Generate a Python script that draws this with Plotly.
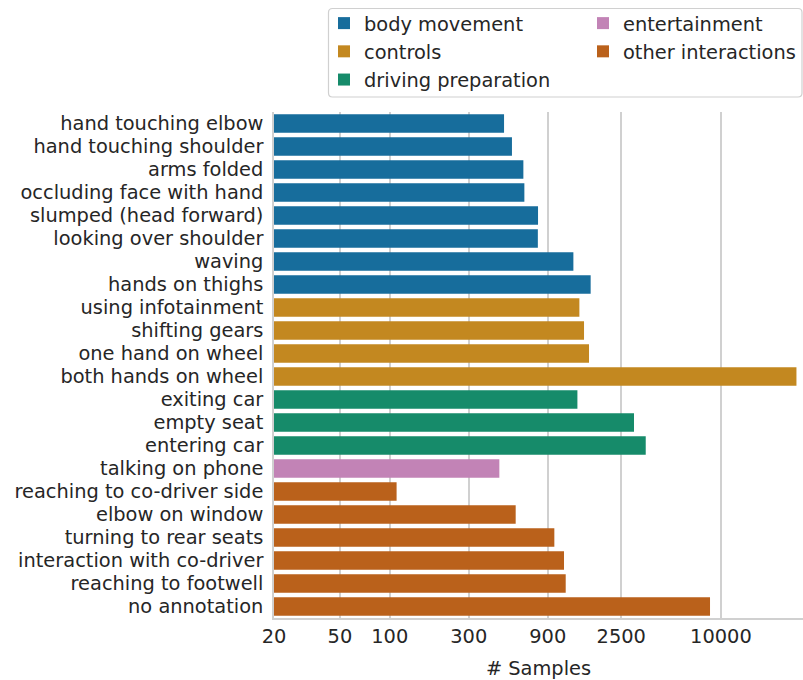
import plotly.graph_objects as go

# Sample counts per activity, grouped by category (top to bottom)
body_movement_labels = ["hand touching elbow", "hand touching shoulder", "arms folded",
                        "occluding face with hand", "slumped (head forward)",
                        "looking over shoulder", "waving", "hands on thighs"]
body_movement_values = [490, 547, 641, 650, 786, 784, 1285, 1634]

controls_labels = ["using infotainment", "shifting gears", "one hand on wheel",
                   "both hands on wheel"]
controls_values = [1397, 1490, 1597, 28570]

driving_prep_labels = ["exiting car", "empty seat", "entering car"]
driving_prep_values = [1359, 2985, 3514]

entertainment_labels = ["talking on phone"]
entertainment_values = [459]

other_labels = ["reaching to co-driver side", "elbow on window", "turning to rear seats",
                "interaction with co-driver", "reaching to footwell", "no annotation"]
other_values = [110, 576, 986, 1128, 1155, 8590]

x_tick_values = [20, 50, 100, 300, 900, 2500, 10000]
x_tick_labels = ["20", "50", "100", "300", "900", "2500", "10000"]

groups = [
    ("body movement", body_movement_labels, body_movement_values, "#176d9c", "legend"),
    ("controls", controls_labels, controls_values, "#c38820", "legend"),
    ("driving preparation", driving_prep_labels, driving_prep_values, "#168b6a", "legend"),
    ("entertainment", entertainment_labels, entertainment_values, "#c283b6", "legend2"),
    ("other interactions", other_labels, other_values, "#ba611b", "legend2"),
]

all_labels = []
for _, labels, _, _, _ in groups:
    all_labels += labels

FONT = "DejaVu Sans"
TEXT = "#262626"
FS = 19.4

W, H = 803, 680
L, R, T, B = 274, 0, 112, 62

fig = go.Figure()
for name, labels, values, color, leg in groups:
    fig.add_trace(go.Bar(
        y=labels, x=values, orientation="h", name=name,
        marker=dict(color=color, line=dict(width=0)),
        width=0.8, legend=leg, legendgroup=name,
    ))

pw = W - L - R
ph = H - T - B


def px_x(p):
    return (p - L) / pw


def px_y(p):
    return (H - B - p) / ph


# rounded legend frame
x0, x1, y0, y1 = px_x(328.5), px_x(802), px_y(8.5), px_y(97)
rx, ry = 4 / pw, 4 / ph
frame = (f"M{x0+rx},{y0} L{x1-rx},{y0} Q{x1},{y0} {x1},{y0-ry} "
         f"L{x1},{y1+ry} Q{x1},{y1} {x1-rx},{y1} L{x0+rx},{y1} "
         f"Q{x0},{y1} {x0},{y1+ry} L{x0},{y0-ry} Q{x0},{y0} {x0+rx},{y0} Z")
fig.add_shape(type="path", path=frame, xref="paper", yref="paper",
              line=dict(color="#d0d0d0", width=1.2), fillcolor="white",
              layer="below")

legend_common = dict(
    xref="paper", yref="paper", xanchor="left", yanchor="top",
    font=dict(family=FONT, size=FS, color=TEXT), bgcolor="rgba(0,0,0,0)",
    borderwidth=0, traceorder="grouped", tracegroupgap=0, itemclick=False,
)

fig.update_layout(
    width=W, height=H,
    margin=dict(l=L, r=R, t=T, b=B, pad=0, autoexpand=False),
    paper_bgcolor="white", plot_bgcolor="white",
    barmode="overlay",
    font=dict(family=FONT, size=FS, color=TEXT),
    showlegend=True,
    legend=dict(x=px_x(324), y=px_y(4), **legend_common),
    legend2=dict(x=px_x(583), y=px_y(4), **legend_common),
    xaxis=dict(
        type="log", range=[1.30103, 1.30103 + (W - L) / 165.6],
        tickvals=x_tick_values, ticktext=x_tick_labels,
        showgrid=True, gridcolor="#d0d0d0", gridwidth=1.5,
        showline=True, linecolor="#d0d0d0", linewidth=1.5,
        ticks="", zeroline=False, automargin=False,
        title=dict(text="# Samples", font=dict(family=FONT, size=FS, color=TEXT), standoff=14),
        tickfont=dict(family=FONT, size=FS, color=TEXT),
    ),
    yaxis=dict(
        type="category", categoryorder="array", categoryarray=all_labels,
        autorange="reversed", automargin=False,
        showgrid=False, showline=True, linecolor="#d0d0d0", linewidth=1.5,
        ticks="outside", ticklen=5, tickcolor="rgba(0,0,0,0)",
        tickfont=dict(family=FONT, size=FS, color=TEXT),
    ),
)

fig.write_html("out.html")
